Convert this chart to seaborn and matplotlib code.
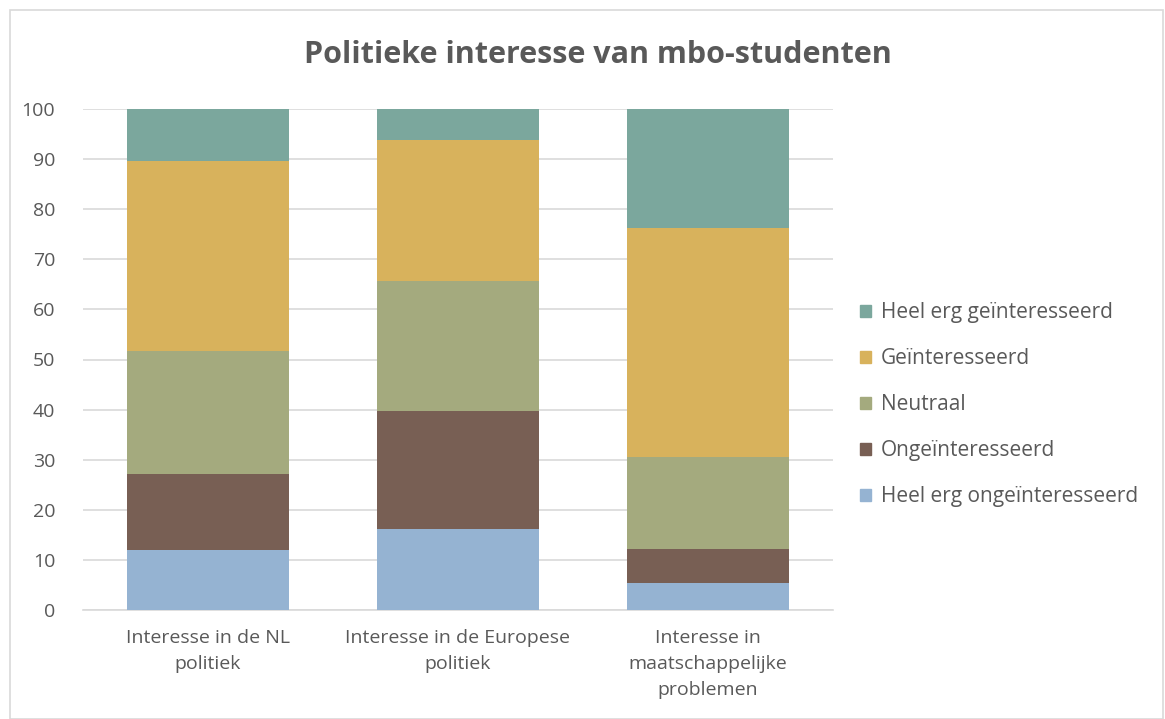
import numpy as np
import pandas as pd
import matplotlib
matplotlib.use("Agg")
import matplotlib.pyplot as plt
import matplotlib.patches as mpatches
import seaborn as sns

categories = ["Interesse in de NL\npolitiek",
              "Interesse in de Europese\npolitiek",
              "Interesse in\nmaatschappelijke\nproblemen"]
series = ["Heel erg ongeïnteresseerd", "Ongeïnteresseerd", "Neutraal",
          "Geïnteresseerd", "Heel erg geïnteresseerd"]
heel_erg_ongeinteresseerd = [12.0, 16.1, 5.3]
ongeinteresseerd = [15.2, 23.7, 6.9]
neutraal = [24.4, 25.9, 18.3]
geinteresseerd = [38.1, 28.1, 45.8]
heel_erg_geinteresseerd = [10.3, 6.2, 23.7]
colors = ["#95B3D2", "#785F54", "#A4AA7E", "#D8B25C", "#7BA79D"]

sns.set_theme(style="white")
plt.rcParams['font.family'] = ['Open Sans', 'DejaVu Sans']
text_color = "#595959"

values = [heel_erg_ongeinteresseerd, ongeinteresseerd, neutraal,
          geinteresseerd, heel_erg_geinteresseerd]
cum = np.cumsum(np.array(values), axis=0)

fig = plt.figure(figsize=(11.65, 7.19), dpi=100)
ax = fig.add_axes([0.0712, 0.1516, 0.6438, 0.6968])

# draw cumulative totals, tallest first, so the lower layers cover them
for i in range(len(series) - 1, -1, -1):
    df = pd.DataFrame({"cat": categories, "val": cum[i]})
    sns.barplot(data=df, x="cat", y="val", color=colors[i], width=0.65,
                saturation=1, ax=ax, linewidth=0, zorder=2 + (5 - i))

ax.set_ylim(0, 100)
ax.set_xlim(-0.5, 2.5)
ax.set_yticks(range(0, 101, 10))
ax.yaxis.grid(True, color="#D9D9D9", linewidth=1.2, zorder=0)
ax.set_axisbelow(True)
for s in ["left", "right", "top"]:
    ax.spines[s].set_visible(False)
ax.spines["bottom"].set_color("#D9D9D9")
ax.spines["bottom"].set_linewidth(1.2)
ax.set_xlabel("")
ax.set_ylabel("")
ax.tick_params(axis="both", length=0, labelsize=14, colors=text_color)
ax.tick_params(axis="y", pad=20)
ax.tick_params(axis="x", pad=14)
for lab in ax.get_xticklabels():
    lab.set_linespacing(1.55)

fig.suptitle("Politieke interesse van mbo-studenten", fontsize=22, fontweight="bold",
             color=text_color, x=0.513, y=0.923, va="center")

handles = [mpatches.Patch(color=colors[i], label=series[i]) for i in range(4, -1, -1)]
fig.legend(handles=handles, loc="center left", bbox_to_anchor=(0.722, 0.437),
           frameon=False, fontsize=15, labelcolor=text_color,
           handlelength=0.55, handleheight=0.55, handletextpad=0.45, labelspacing=1.2)

fig.patches.append(mpatches.Rectangle((10 / 1165, 0), 1 - 12 / 1165, 1 - 10 / 719,
                                      transform=fig.transFigure, fill=False,
                                      edgecolor="#D9D9D9", linewidth=1.2))

fig.savefig("out.png", dpi=100)
